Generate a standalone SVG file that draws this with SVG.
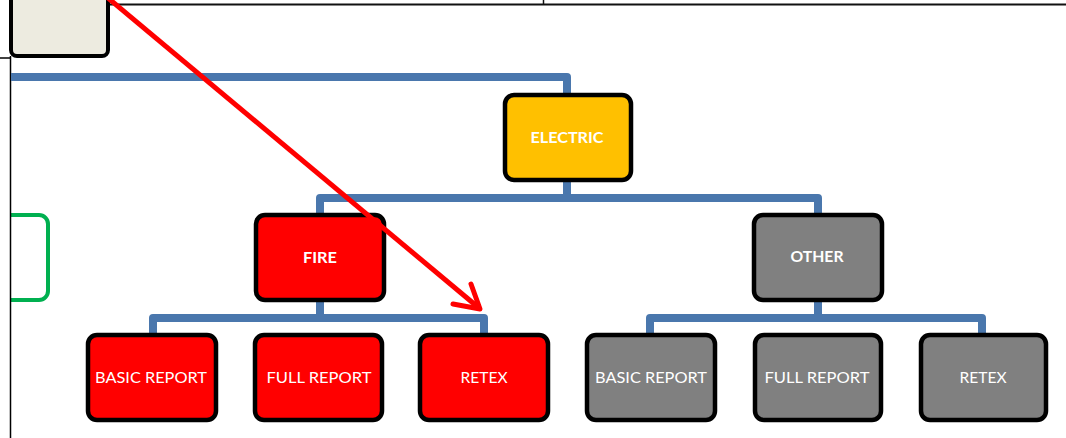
<svg xmlns="http://www.w3.org/2000/svg" width="1066" height="438" viewBox="0 0 1066 438">
<style>
.box{stroke:#000;stroke-width:4.5}
.red{fill:#FF0000}
.grey{fill:#808080}
.lbl{font-family:Lato,"Liberation Sans",sans-serif;font-size:16px;fill:#fff;text-anchor:middle}
.b{font-weight:bold}
.conn{fill:none;stroke:#4A77AD;stroke-width:8;stroke-linejoin:round}
</style>
<rect width="1066" height="438" fill="#fff"/>
<g id="frame">
<line x1="110" y1="4.5" x2="1066" y2="4.5" stroke="#111" stroke-width="2"/>
<line x1="543.5" y1="0" x2="543.5" y2="5" stroke="#111" stroke-width="1.5"/>
<line x1="0" y1="58" x2="10" y2="58" stroke="#000" stroke-width="1.5"/>
</g>
<g id="beige">
<rect x="11" y="-10" width="97" height="66" rx="6" fill="#EDEBE0" stroke="#000" stroke-width="4"/>
</g>
<g id="green">
<path d="M11,215 H39 A9,9 0 0 1 48,224 V291 A9,9 0 0 1 39,300 H11" fill="#fff" stroke="#00B050" stroke-width="4"/>
</g>
<line x1="10.5" y1="56" x2="10.5" y2="438" stroke="#000" stroke-width="1.5"/>
<g id="connectors">
<path class="conn" d="M11,77 H567 V95"/>
<path class="conn" d="M567,182 V198"/>
<path class="conn" d="M320,215 V198 H818 V215"/>
<path class="conn" d="M320,300 V318"/>
<path class="conn" d="M153,335 V318 H484 V335"/>
<path class="conn" d="M818,300 V318"/>
<path class="conn" d="M650,335 V318 H982 V335"/>
</g>
<g id="electric">
<rect class="box" x="505" y="95" width="126" height="85" rx="9" fill="#FFC000"/>
<text class="lbl b" x="567" y="143" textLength="73" lengthAdjust="spacingAndGlyphs">ELECTRIC</text>
</g>
<g id="fire">
<rect class="box red" x="256" y="215" width="128" height="85" rx="9"/>
<text class="lbl b" x="320" y="263" textLength="34" lengthAdjust="spacingAndGlyphs">FIRE</text>
</g>
<g id="other">
<rect class="box grey" x="754" y="215" width="128" height="85" rx="9"/>
<text class="lbl b" x="817" y="262" textLength="53" lengthAdjust="spacingAndGlyphs">OTHER</text>
</g>
<g id="fire-basic">
<rect class="box red" x="88" y="335" width="128" height="85" rx="9"/>
<text class="lbl" x="151" y="383" textLength="112" lengthAdjust="spacingAndGlyphs">BASIC REPORT</text>
</g>
<g id="fire-full">
<rect class="box red" x="255" y="335" width="127" height="85" rx="9"/>
<text class="lbl" x="319" y="383" textLength="105" lengthAdjust="spacingAndGlyphs">FULL REPORT</text>
</g>
<g id="fire-retex">
<rect class="box red" x="420" y="335" width="128" height="85" rx="9"/>
<text class="lbl" x="484" y="383" textLength="47" lengthAdjust="spacingAndGlyphs">RETEX</text>
</g>
<g id="other-basic">
<rect class="box grey" x="587" y="335" width="128" height="85" rx="9"/>
<text class="lbl" x="651" y="383" textLength="112" lengthAdjust="spacingAndGlyphs">BASIC REPORT</text>
</g>
<g id="other-full">
<rect class="box grey" x="755" y="335" width="126" height="85" rx="9"/>
<text class="lbl" x="817" y="383" textLength="105" lengthAdjust="spacingAndGlyphs">FULL REPORT</text>
</g>
<g id="other-retex">
<rect class="box grey" x="921" y="335" width="125" height="85" rx="9"/>
<text class="lbl" x="983" y="383" textLength="47" lengthAdjust="spacingAndGlyphs">RETEX</text>
</g>
<g id="arrow">
<line x1="108" y1="-2" x2="479" y2="308" stroke="#FF0000" stroke-width="5"/>
<polyline points="453,304 480,309 471,284" fill="none" stroke="#FF0000" stroke-width="5" stroke-linecap="round" stroke-linejoin="round"/>
</g>
</svg>
